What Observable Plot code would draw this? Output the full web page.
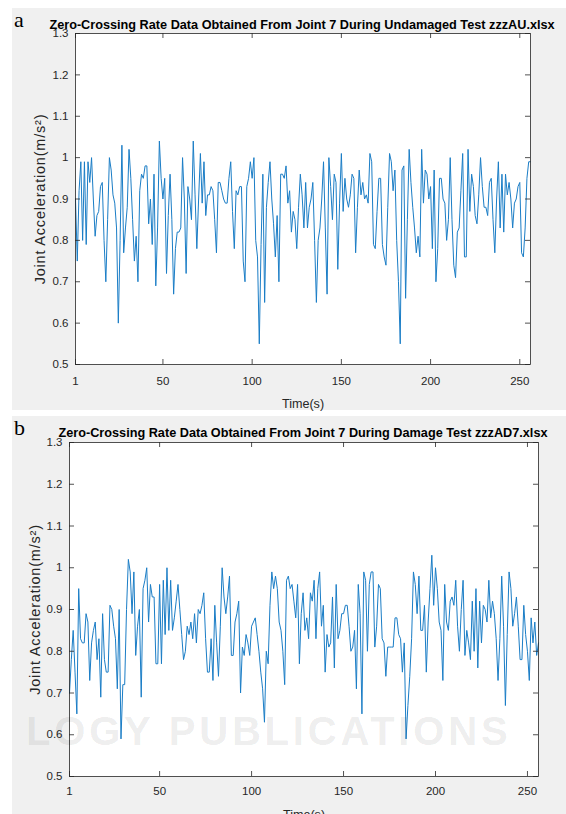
<!DOCTYPE html>
<html><head><meta charset="utf-8">
<script src="https://cdn.jsdelivr.net/npm/d3@7"></script>
<script src="https://cdn.jsdelivr.net/npm/@observablehq/plot@0.6"></script>
<style>
html,body{margin:0;padding:0;background:#fff;}
#root{position:relative;width:566px;height:814px;overflow:hidden;font-family:"Liberation Sans",Arial,Helvetica,sans-serif;}
.bg{position:absolute;background:#f0f0f0;}
.letter{position:absolute;font-family:"Liberation Serif","Times New Roman",serif;font-size:22px;line-height:22px;color:#000;}
.title{position:absolute;font-weight:bold;font-size:12.7px;line-height:14px;color:#000;white-space:nowrap;transform:translateX(-50%);}
.holder{position:absolute;}
.wm{position:absolute;font-family:"Liberation Sans",Arial,sans-serif;font-weight:bold;font-size:40px;line-height:40px;letter-spacing:3.8px;color:rgba(0,0,0,0.085);white-space:nowrap;pointer-events:none;}
g[aria-label="y-axis label"] text{letter-spacing:0.8px;}
</style></head><body><div id="root">
<div class="bg" style="left:12px;top:8px;width:554px;height:402px"></div>
<div class="bg" style="left:12px;top:416px;width:554px;height:398px"></div>
<div class="letter" style="left:14px;top:9px">a</div>
<div class="letter" style="left:14px;top:417px">b</div>
<div class="title" id="titleA" style="left:302px;top:18px"></div>
<div class="title" id="titleB" style="left:303px;top:426px"></div>
<div class="holder" id="plotA" style="left:12px;top:0px"></div>
<div class="holder" id="plotB" style="left:12px;top:410px"></div>
<div class="wm" style="left:26px;top:711px">LOGY PUBLICATIONS</div>
</div>
<script>
const titleA = "Zero-Crossing Rate Data Obtained From Joint 7 During Undamaged Test zzzAU.xlsx";
const titleB = "Zero-Crossing Rate Data Obtained From Joint 7 During Damage Test zzzAD7.xlsx";
const xLabel = "Time(s)";
const yLabel = "Joint Acceleration(m/s\u00B2)";
const xTicks = [1, 50, 100, 150, 200, 250];
const yTicks = [0.5, 0.6, 0.7, 0.8, 0.9, 1.0, 1.1, 1.2, 1.3];

// (a) Undamaged test, samples 1..256
const undamaged = [
0.90,0.75,0.92,0.99,0.80,0.99,0.79,0.99,0.94,1.00,
0.90,0.81,0.86,0.87,0.93,0.94,0.80,0.70,0.85,1.00,
0.97,0.91,0.89,0.83,0.60,0.80,1.03,0.77,0.83,0.88,
1.02,0.95,0.85,0.75,0.81,0.70,0.92,0.96,0.95,0.98,
0.98,0.84,0.90,0.79,0.96,0.69,0.83,1.04,0.95,0.90,
0.95,0.72,0.86,0.96,0.85,0.67,0.78,0.82,0.82,0.83,
1.00,0.90,0.72,0.93,0.90,0.85,1.04,0.91,0.78,0.90,
1.01,0.89,0.99,0.86,0.91,0.91,0.93,0.92,0.85,0.77,
0.94,0.94,0.92,0.90,0.89,0.89,0.95,0.99,0.87,0.78,
0.92,0.91,0.93,0.93,0.75,0.70,0.93,0.95,0.99,0.95,
1.00,0.80,0.76,0.55,0.79,0.96,0.65,0.88,0.94,0.99,
0.90,0.84,0.76,0.86,0.70,0.96,0.96,0.95,0.98,0.89,
0.92,0.82,0.87,0.85,0.78,0.88,0.96,0.91,0.83,0.94,
0.83,0.88,0.90,0.94,0.80,0.65,0.80,0.83,0.90,0.99,
0.83,0.67,1.00,0.93,0.85,0.96,0.94,0.73,0.89,1.01,
0.87,0.95,0.90,0.88,0.91,0.96,0.95,0.77,0.88,0.97,
0.91,0.94,0.90,0.91,0.89,1.01,0.99,0.79,0.78,0.87,
0.95,0.95,0.79,0.76,0.74,0.88,1.01,0.99,0.92,0.97,
0.80,0.70,0.55,0.97,0.98,0.66,0.85,1.02,0.94,0.88,
0.83,0.77,0.81,0.76,1.02,0.89,0.97,0.96,0.90,0.93,
0.78,0.97,0.70,0.78,0.95,0.95,0.90,0.89,0.80,0.85,
1.00,0.85,0.74,0.71,0.82,0.83,0.92,1.01,0.76,0.76,
1.02,0.87,0.96,0.93,0.86,0.84,0.91,1.00,0.93,0.88,
0.88,0.86,0.94,0.95,0.85,0.77,0.90,0.99,0.83,0.96,
0.82,0.96,0.91,0.94,0.90,0.83,0.89,0.90,0.93,0.94,
0.77,0.76,0.83,0.95,0.99,0.99
];

// (b) Damage test, samples 1..256
const damaged = [
0.70,0.78,0.85,0.75,0.65,0.95,0.83,0.82,0.82,0.89,
0.87,0.73,0.82,0.85,0.87,0.78,0.83,0.69,0.89,0.78,
0.75,0.75,0.91,0.90,0.86,0.83,0.71,0.90,0.59,0.72,
0.72,0.90,1.02,0.99,0.89,0.99,0.79,0.86,0.90,0.69,
0.95,0.97,1.00,0.87,0.96,0.93,0.93,0.77,0.77,0.96,
0.77,0.97,0.84,1.00,0.85,0.97,0.85,0.88,0.92,0.96,
0.90,0.84,0.78,0.80,0.86,0.84,0.87,0.83,0.89,0.82,
0.90,0.89,0.91,0.94,0.83,0.75,0.75,0.83,0.73,0.91,
0.82,0.74,0.86,1.00,0.93,0.89,0.93,0.98,0.79,0.79,
0.87,0.89,0.92,0.70,0.81,0.79,0.84,0.82,0.79,0.86,
0.87,0.88,0.84,0.80,0.75,0.71,0.63,0.80,0.77,0.91,
0.99,0.95,0.98,0.95,0.87,0.85,0.80,0.72,0.97,0.98,
0.95,0.96,0.92,0.88,0.96,0.77,0.89,0.94,0.85,0.88,
0.83,0.94,0.92,0.97,0.83,0.95,0.99,0.86,0.91,0.75,
0.84,0.81,0.82,0.93,0.76,0.96,0.83,0.85,0.89,0.89,
0.91,0.91,0.86,0.80,0.81,0.85,0.71,0.96,0.89,0.65,
0.99,0.97,0.80,0.96,0.99,0.99,0.81,0.86,0.96,0.95,
0.83,0.82,0.74,0.81,0.81,0.81,0.81,0.88,0.88,0.84,
0.83,0.75,0.82,0.59,0.67,0.74,0.83,0.99,0.96,0.89,
0.98,0.85,0.85,0.91,0.75,0.87,0.95,1.03,0.91,1.00,
0.95,0.87,0.85,0.73,0.96,0.87,0.85,0.92,0.93,0.91,
0.97,0.86,0.80,0.90,0.97,0.79,0.85,0.82,0.78,0.92,
0.80,0.95,0.76,0.92,0.82,0.91,0.90,0.87,0.97,0.88,
0.92,0.89,0.83,0.73,0.83,0.98,0.86,0.67,0.84,0.99,
0.95,0.86,0.89,0.93,0.86,0.78,0.78,0.91,0.84,0.80,
0.73,0.88,0.82,0.87,0.79,0.82
];

const axisColor = "#262626";
const lineColor = "#1a7dc6";
const font = "'Liberation Sans', Arial, Helvetica, sans-serif";

function panel(values, o) {
  const data = values.map((v, i) => ({t: i + 1, v}));
  const pw = o.width - o.ml - o.mr, ph = o.height - o.mt - o.mb, tk = 5;
  return Plot.plot({
    width: o.width, height: o.height,
    marginTop: o.mt, marginBottom: o.mb, marginLeft: o.ml, marginRight: o.mr,
    style: {background: "transparent", fontFamily: font, fontSize: "11.5px", color: axisColor, overflow: "visible"},
    x: {domain: [1, 256]},
    y: {domain: [0.5, 1.3]},
    marks: [
      Plot.frame({fill: "white", stroke: "none"}),
      Plot.line(data, {x: "t", y: "v", stroke: lineColor, strokeWidth: 1}),
      Plot.tickX(xTicks, {x: d => d, insetTop: ph - tk, stroke: axisColor, strokeWidth: 0.8}),
      Plot.tickX(xTicks, {x: d => d, insetBottom: ph - tk, stroke: axisColor, strokeWidth: 0.8}),
      Plot.tickY(yTicks, {y: d => d, insetRight: pw - tk, stroke: axisColor, strokeWidth: 0.8}),
      Plot.tickY(yTicks, {y: d => d, insetLeft: pw - tk, stroke: axisColor, strokeWidth: 0.8}),
      Plot.frame({stroke: axisColor, strokeWidth: 0.8}),
      Plot.axisX({ticks: xTicks, tickSize: 0, tickPadding: o.xpad, tickFormat: d => String(d), label: null, fontSize: 11.5}),
      Plot.axisY({ticks: yTicks, tickSize: 0, tickPadding: 7, tickFormat: d => String(d), label: null, fontSize: 11.5}),
      Plot.axisX({ticks: [], tickSize: 0, label: xLabel, labelAnchor: "center", labelArrow: "none", labelOffset: o.xlo, fontSize: 12.6}),
      Plot.axisY({ticks: [], tickSize: 0, label: yLabel, labelAnchor: "center", labelArrow: "none", labelOffset: o.ylo, fontSize: 14.5})
    ]
  });
}

document.getElementById("titleA").textContent = titleA;
document.getElementById("titleB").textContent = titleB;
document.getElementById("plotA").append(panel(undamaged, {width: 554, height: 410, mt: 33, mb: 46, ml: 63, mr: 36, xpad: 12, xlo: 43, ylo: 41}));
document.getElementById("plotB").append(panel(damaged, {width: 554, height: 404, mt: 32, mb: 38, ml: 57, mr: 28, xpad: 10, xlo: 42, ylo: 40}));
</script></body></html>
